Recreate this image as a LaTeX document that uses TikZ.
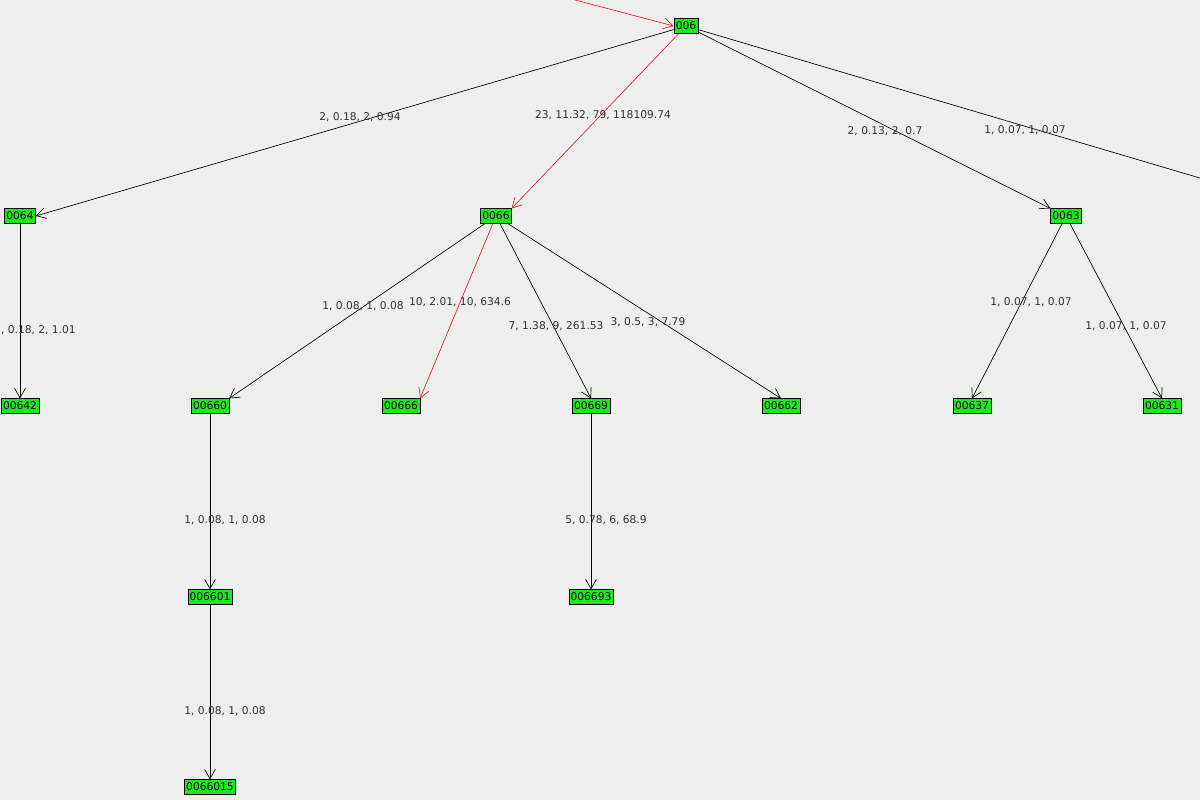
\documentclass[tikz,border=0pt]{standalone}
\usepackage{fontspec}
\setmainfont{DejaVu Sans}
\usetikzlibrary{arrows.meta}
\definecolor{bg}{RGB}{238,238,238}
\definecolor{vgreen}{RGB}{30,232,30}
\definecolor{vred}{RGB}{228,30,40}
\definecolor{lblgray}{RGB}{50,50,50}

\begin{document}
\begin{tikzpicture}[x=0.75pt, y=-0.75pt,
    vertex/.style={draw, fill=vgreen, inner sep=1.4pt, minimum height=11pt, font=\fontsize{8}{9}\selectfont},
    edge/.style={-{Straight Barb[length=7pt,width=8pt]}, line width=0.5pt},
    hot/.style={edge, draw=vred},
    lbl/.style={text=lblgray, font=\fontsize{8}{9}\selectfont, inner sep=0pt}]

    % Background
    \fill[bg] (0,0) rectangle (1200,800);
    \useasboundingbox (0,0) rectangle (1200,800);
    \clip (0,0) rectangle (1200,800);

    % Vertices
    \node[vertex] (v006) at (686,26) {006};
    \node[vertex] (v0064) at (20,216) {0064};
    \node[vertex] (v0066) at (496,216) {0066};
    \node[vertex] (v0063) at (1066,216) {0063};
    \node[vertex] (v00642) at (20,406) {00642};
    \node[vertex] (v00660) at (210,406) {00660};
    \node[vertex] (v00666) at (401,406) {00666};
    \node[vertex] (v00669) at (591,406) {00669};
    \node[vertex] (v00662) at (781,406) {00662};
    \node[vertex] (v00637) at (972,406) {00637};
    \node[vertex] (v00631) at (1162,406) {00631};
    \node[vertex] (v006601) at (210,597) {006601};
    \node[vertex] (v006693) at (591,597) {006693};
    \node[vertex] (v0066015) at (210,787) {0066015};

    % Off-screen ends
    \coordinate (inflow) at (560,-4);
    \coordinate (outflow) at (1210,181);

    % Connections
    \draw[hot] (inflow) -- (v006.west);
    \draw[edge] (v006) -- (v0064.east);
    \draw[hot] (v006) -- (v0066.north east);
    \draw[edge] (v006) -- (v0063.north west);
    \draw[line width=0.5pt] (v006) -- (outflow);
    \draw[edge] (v0064) -- (v00642);
    \draw[edge] (v0066) -- (v00660.north east);
    \draw[hot] (v0066) -- (v00666.north east);
    \draw[edge] (v0066) -- (v00669.north);
    \draw[edge] (v0066) -- (v00662.north);
    \draw[edge] (v0063) -- (v00637.north);
    \draw[edge] (v0063) -- (v00631.north);
    \draw[edge] (v00660) -- (v006601);
    \draw[edge] (v006601) -- (v0066015);
    \draw[edge] (v00669) -- (v006693);

    % Edge labels
    \node[lbl] (l1) at (360,117) {2, 0.18, 2, 0.94};
    \node[lbl] (l2) at (603,115) {23, 11.32, 79, 118109.74};
    \node[lbl] (l3) at (885,131) {2, 0.13, 2, 0.7};
    \node[lbl] (l4) at (1025,130) {1, 0.07, 1, 0.07};
    \node[lbl] (l5) at (35,330) {2, 0.18, 2, 1.01};
    \node[lbl] (l6) at (363,306) {1, 0.08, 1, 0.08};
    \node[lbl] (l7) at (460,302) {10, 2.01, 10, 634.6};
    \node[lbl] (l8) at (556,326) {7, 1.38, 9, 261.53};
    \node[lbl] (l9) at (648,322) {3, 0.5, 3, 7.79};
    \node[lbl] (l10) at (1031,302) {1, 0.07, 1, 0.07};
    \node[lbl] (l11) at (1126,326) {1, 0.07, 1, 0.07};
    \node[lbl] (l12) at (225,520) {1, 0.08, 1, 0.08};
    \node[lbl] (l13) at (606,520) {5, 0.78, 6, 68.9};
    \node[lbl] (l14) at (225,711) {1, 0.08, 1, 0.08};

\end{tikzpicture}
\end{document}
